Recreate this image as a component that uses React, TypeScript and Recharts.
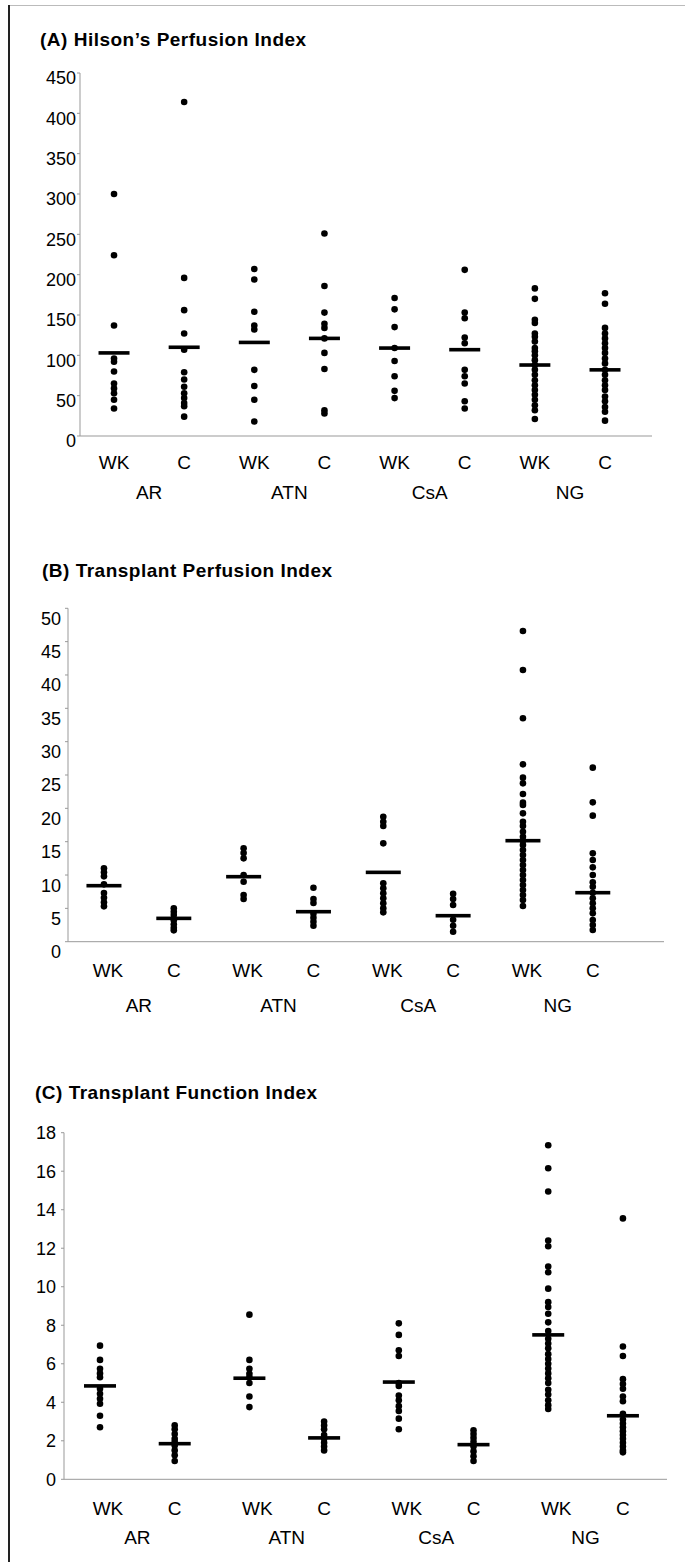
import React from 'react';
import { ScatterChart, Scatter, XAxis, YAxis } from 'recharts';

const FONT = '"Liberation Sans", Arial, Helvetica, sans-serif';

// ---- shared category data ----
const categories = ['WK', 'C', 'WK', 'C', 'WK', 'C', 'WK', 'C'];
const groups = ['AR', 'ATN', 'CsA', 'NG'];
const categoryTicks = [1, 2, 3, 4, 5, 6, 7, 8];
const groupTicks = [1.5, 3.5, 5.5, 7.5];

// ---- (A) Hilson's Perfusion Index ----
const hilsonTicks = [0, 50, 100, 150, 200, 250, 300, 350, 400, 450];
const hilsonValues: number[][] = [
  [300, 224, 137, 96, 92, 80, 65, 59, 53, 45, 34],
  [414, 196, 156, 127, 107, 79, 70, 61, 53, 47, 41, 37, 24],
  [207, 194, 154, 137, 132, 82, 62, 45, 18],
  [251, 186, 153, 139, 134, 121, 103, 83, 32, 28],
  [171, 157, 135, 109, 93, 74, 56, 47],
  [206, 153, 146, 122, 115, 82, 74, 65, 43, 34],
  [183, 170, 144, 140, 127, 123, 117, 109, 105, 100, 94, 88, 82, 76, 69, 63, 57, 51, 45, 38, 32, 21],
  [177, 164, 134, 127, 121, 115, 109, 103, 96, 90, 82, 76, 69, 63, 57, 49, 43, 36, 30, 19],
];
const hilsonMeans = [103, 110, 116, 121, 109, 107, 88, 82];

// ---- (B) Transplant Perfusion Index ----
const perfusionTicks = [0, 5, 10, 15, 20, 25, 30, 35, 40, 45, 50];
const perfusionValues: number[][] = [
  [11.0, 10.4, 9.8, 8.6, 7.3, 6.6, 5.9, 5.3],
  [5.0, 4.5, 4.0, 3.2, 2.6, 2.1, 1.7],
  [14.0, 13.3, 12.5, 10.0, 9.0, 7.0, 6.4],
  [8.1, 6.4, 5.8, 4.2, 3.6, 3.0, 2.4],
  [18.75, 18.0, 17.35, 14.75, 8.75, 8.0, 7.25, 6.5, 5.75, 5.0, 4.4],
  [7.2, 6.4, 5.5, 3.3, 2.4, 1.5],
  [46.6, 40.75, 33.5, 26.6, 24.6, 23.75, 22.15, 20.85, 20.5, 19.25, 18, 17.35, 16.5, 15.75, 15.15, 14.5, 13.75, 13, 12.25, 11.5, 10.75, 10, 9.25, 8.5, 7.75, 7, 6.25, 5.35],
  [26.1, 20.9, 18.9, 13.25, 12.25, 11.15, 10, 8.9, 8.25, 7.35, 6.5, 5.75, 5, 4.25, 3.25, 2.5, 1.75],
];
const perfusionMeans = [8.4, 3.5, 9.75, 4.5, 10.4, 3.9, 15.15, 7.35];

// ---- (C) Transplant Function Index ----
const functionTicks = [0, 2, 4, 6, 8, 10, 12, 14, 16, 18];
const functionValues: number[][] = [
  [6.94, 6.2, 5.74, 5.5, 5.3, 4.7, 4.44, 4.18, 3.92, 3.3, 2.7],
  [2.8, 2.6, 2.35, 2.1, 1.95, 1.75, 1.5, 1.25, 0.95],
  [8.55, 6.2, 5.74, 5.48, 5.3, 5.0, 4.3, 3.75],
  [3.0, 2.8, 2.6, 2.3, 2.1, 1.9, 1.7, 1.5],
  [8.1, 7.5, 6.7, 6.4, 5.0, 4.85, 4.35, 4.1, 3.8, 3.55, 3.15, 2.6],
  [2.55, 2.35, 2.15, 1.95, 1.7, 1.45, 1.2, 0.95],
  [17.35, 16.15, 14.95, 12.4, 12.1, 11.05, 10.75, 9.9, 9.2, 8.95, 8.6, 8.15, 7.7, 7.3, 7.05, 6.8, 6.5, 6.25, 6.0, 5.75, 5.5, 5.25, 5.0, 4.65, 4.4, 4.1, 3.85, 3.65],
  [13.55, 6.9, 6.4, 5.2, 4.95, 4.7, 4.3, 4.05, 3.4, 3.1, 2.9, 2.7, 2.5, 2.3, 2.1, 1.9, 1.7, 1.5, 1.4],
];
const functionMeans = [4.85, 1.85, 5.25, 2.15, 5.05, 1.8, 7.5, 3.3];

type PanelCfg = {
  title: string;
  top: number;
  height: number;
  titleLeft: number;
  titleTop: number;
  values: number[][];
  means: number[];
  yTicks: number[];
  xDomain: [number, number];
  margin: { top: number; right: number; bottom: number; left: number };
  yAxisWidth: number;
  yGap: number;
  yLabelDy: number;
  catH: number;
  catDy: number;
  grpH: number;
  grpDy: number;
  wkDx: number;
  barW: number;
};

const tickFont = 18;
const catFont = 19;

function Panel(cfg: PanelCfg) {
  const dots = cfg.values.flatMap((vals, i) => vals.map((v) => ({ x: categoryTicks[i], y: v })));
  const meanData = cfg.means.map((m, i) => ({ x: categoryTicks[i], y: m }));
  const yMax = cfg.yTicks[cfg.yTicks.length - 1];

  const YTick = (p: any) => (
    <text x={p.x} y={p.y + cfg.yLabelDy + 0.36 * tickFont} textAnchor="end" fontSize={tickFont} fontFamily={FONT} fill="#000">
      {p.payload.value}
    </text>
  );
  const CatTick = (p: any) => {
    const idx = categoryTicks.indexOf(p.payload.value);
    const label = categories[idx];
    const dx = label === 'WK' ? cfg.wkDx : 0;
    return (
      <text x={p.x + dx} y={p.y + cfg.catDy + 0.36 * catFont} textAnchor="middle" fontSize={catFont} fontFamily={FONT} fill="#000">
        {label}
      </text>
    );
  };
  const GrpTick = (p: any) => {
    const idx = groupTicks.indexOf(p.payload.value);
    return (
      <text x={p.x} y={p.y + cfg.grpDy + 0.36 * catFont} textAnchor="middle" fontSize={catFont} fontFamily={FONT} fill="#000">
        {groups[idx]}
      </text>
    );
  };
  const Dot = (p: any) => <circle cx={p.cx} cy={p.cy} r={3.3} fill="#000" />;
  const Bar = (p: any) => (
    <rect x={p.cx - cfg.barW / 2} y={p.cy - 1.8} width={cfg.barW} height={3.6} fill="#000" />
  );

  return (
    <div style={{ position: 'absolute', left: 0, top: cfg.top, width: 685, height: cfg.height }}>
      <div
        style={{
          position: 'absolute',
          left: cfg.titleLeft,
          top: cfg.titleTop,
          fontFamily: FONT,
          fontWeight: 'bold',
          fontSize: 19,
          lineHeight: 1,
          letterSpacing: 0.5,
          whiteSpace: 'nowrap',
          color: '#000',
        }}
      >
        {cfg.title}
      </div>
      <ScatterChart width={685} height={cfg.height} margin={cfg.margin}>
        <XAxis
          xAxisId="cat"
          type="number"
          dataKey="x"
          domain={cfg.xDomain}
          allowDataOverflow
          ticks={categoryTicks}
          interval={0}
          tickSize={0}
          tickMargin={0}
          tickLine={false}
          axisLine={{ stroke: '#999', strokeWidth: 1 }}
          height={cfg.catH}
          tick={<CatTick />}
        />
        <XAxis
          xAxisId="grp"
          type="number"
          dataKey="x"
          domain={cfg.xDomain}
          allowDataOverflow
          ticks={groupTicks}
          interval={0}
          tickSize={0}
          tickMargin={0}
          tickLine={false}
          axisLine={false}
          height={cfg.grpH}
          tick={<GrpTick />}
        />
        <YAxis
          type="number"
          dataKey="y"
          domain={[0, yMax]}
          allowDataOverflow
          ticks={cfg.yTicks}
          interval={0}
          width={cfg.yAxisWidth}
          tickSize={3}
          tickMargin={cfg.yGap - 3}
          tickLine={{ stroke: '#999' }}
          axisLine={{ stroke: '#999', strokeWidth: 1 }}
          tick={<YTick />}
        />
        <Scatter xAxisId="cat" data={dots} shape={<Dot />} isAnimationActive={false} />
        <Scatter xAxisId="cat" data={meanData} shape={<Bar />} isAnimationActive={false} />
      </ScatterChart>
    </div>
  );
}

export default function App() {
  const panelA: PanelCfg = {
    title: '(A) Hilson\u2019s Perfusion Index',
    top: 0,
    height: 520,
    titleLeft: 40,
    titleTop: 29.5,
    values: hilsonValues,
    means: hilsonMeans,
    yTicks: hilsonTicks,
    xDomain: [0.515, 8.67],
    margin: { top: 73, right: 33, bottom: 14, left: 0 },
    yAxisWidth: 80,
    yGap: 4,
    yLabelDy: 5,
    catH: 30,
    catDy: 25.7,
    grpH: 40,
    grpDy: 25.7,
    wkDx: 0,
    barW: 31,
  };
  const panelB: PanelCfg = {
    title: '(B) Transplant Perfusion Index',
    top: 530,
    height: 500,
    titleLeft: 42,
    titleTop: 30.7,
    values: perfusionValues,
    means: perfusionMeans,
    yTicks: perfusionTicks,
    xDomain: [0.485, 9.02],
    margin: { top: 78.3, right: 21, bottom: 13.3, left: 0 },
    yAxisWidth: 68,
    yGap: 7,
    yLabelDy: 10,
    catH: 30,
    catDy: 28.3,
    grpH: 45,
    grpDy: 33.3,
    wkDx: 4,
    barW: 35,
  };
  const panelC: PanelCfg = {
    title: '(C) Transplant Function Index',
    top: 1040,
    height: 522,
    titleLeft: 35,
    titleTop: 42.7,
    values: functionValues,
    means: functionMeans,
    yTicks: functionTicks,
    xDomain: [0.518, 8.59],
    margin: { top: 92.7, right: 18, bottom: 12.7, left: 0 },
    yAxisWidth: 64,
    yGap: 8,
    yLabelDy: 0,
    catH: 30,
    catDy: 28.7,
    grpH: 40,
    grpDy: 27.7,
    wkDx: 8,
    barW: 32,
  };

  return (
    <div style={{ position: 'absolute', left: 0, top: 0, width: 685, height: 1562, background: '#fff', overflow: 'hidden' }}>
      <div style={{ position: 'absolute', left: 8, top: 5, width: 677, height: 1, background: '#bbb' }} />
      <div style={{ position: 'absolute', left: 8, top: 5, width: 1.5, height: 1557, background: '#222' }} />
      <Panel {...panelA} />
      <Panel {...panelB} />
      <Panel {...panelC} />
    </div>
  );
}
